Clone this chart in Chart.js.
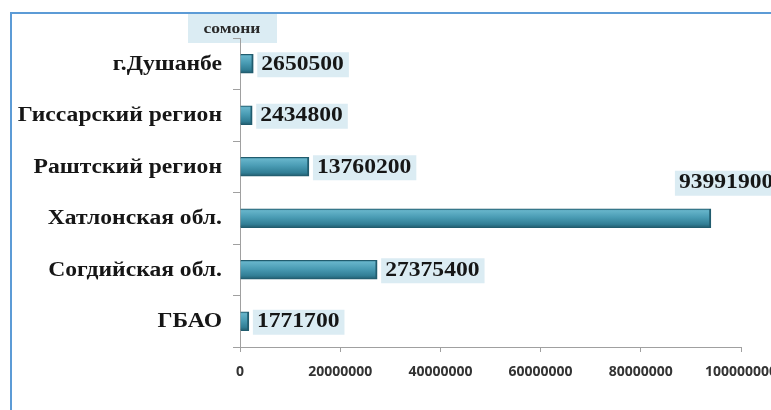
<!DOCTYPE html>
<html>
<head>
<meta charset="utf-8">
<script src="https://cdn.jsdelivr.net/npm/chart.js@4.4.1/dist/chart.umd.min.js"></script>
<style>
  html, body { margin: 0; padding: 0; background: #fff; }
  #wrap { width: 771px; height: 410px; }
</style>
</head>
<body>
<div id="wrap"><canvas id="mainBarChart" width="771" height="410"></canvas></div>
<script>
// регионы и суммы (сомони)
const categories = ['г.Душанбе', 'Гиссарский регион', 'Раштский регион', 'Хатлонская обл.', 'Согдийская обл.', 'ГБАО'];
const values = [2650500, 2434800, 13760200, 93991900, 27375400, 1771700];
const xTicks = [0, 20000000, 40000000, 60000000, 80000000, 100000000];
const unitLabel = 'сомони';

const serif = '"Liberation Serif", "Times New Roman", serif';
const labelBg = '#dbecf3';

// градиент бара по толщине, чтобы был "объём"
function barGradient(ctx) {
    const chart = ctx.chart;
    const yScale = chart.scales.y;
    if (!yScale || ctx.type !== 'data') return '#3b8ea6';
    const cy = yScale.getPixelForValue(ctx.dataIndex);
    if (!Number.isFinite(cy)) return '#3b8ea6';
    const g = chart.ctx.createLinearGradient(0, cy - 10, 0, cy + 10);
    g.addColorStop(0, '#2c6f84');
    g.addColorStop(0.12, '#66b4ca');
    g.addColorStop(0.45, '#4a9cb4');
    g.addColorStop(0.8, '#317e95');
    g.addColorStop(1, '#1f5566');
    return g;
}

// текст, растянутый по ширине
function wideText(c, text, x, y, sx, align) {
    c.save();
    c.translate(x, y);
    c.scale(sx, 1);
    c.textAlign = align;
    c.textBaseline = 'middle';
    c.fillText(text, 0, 0);
    c.restore();
}

const decorPlugin = {
    id: 'decor',
    beforeDraw(chart) {
        const c = chart.ctx;
        c.save();
        // рамка слева и сверху
        c.strokeStyle = '#5c9bd6';
        c.lineWidth = 2;
        c.beginPath();
        c.moveTo(11, 410);
        c.lineTo(11, 13);
        c.lineTo(771, 13);
        c.stroke();
        // подпись единиц
        c.fillStyle = labelBg;
        c.fillRect(188, 14, 89, 29);
        c.fillStyle = '#2a2a2a';
        c.font = 'bold 14px ' + serif;
        wideText(c, unitLabel, 232, 29, 1.25, 'center');
        c.restore();
    },
    afterDatasetsDraw(chart) {
        const c = chart.ctx;
        const yScale = chart.scales.y;
        const bars = chart.getDatasetMeta(0).data;
        c.save();
        // названия регионов
        c.fillStyle = '#161616';
        c.font = 'bold 20px ' + serif;
        categories.forEach((name, i) => {
            wideText(c, name, 222, yScale.getPixelForValue(i) + 1, 1.18, 'right');
        });
        // значения у концов баров
        c.font = 'bold 20px ' + serif;
        bars.forEach((bar, i) => {
            const text = String(values[i]);
            const w = c.measureText(text).width * 1.18 + 9;
            let left = bar.x + 4;
            let cy = bar.y + 1;
            if (left + w > chart.width) {
                // не помещается справа — над баром
                left = bar.x - 36;
                cy = bar.y - 35;
            }
            c.fillStyle = labelBg;
            c.fillRect(left, cy - 12.5, w, 25);
            c.fillStyle = '#161616';
            wideText(c, text, left + 4, cy, 1.18, 'left');
        });
        c.restore();
    }
};

const ctx = document.getElementById('mainBarChart').getContext('2d');
new Chart(ctx, {
    type: 'bar',
    data: {
        labels: categories,
        datasets: [{
            data: values,
            backgroundColor: barGradient,
            borderColor: '#215c6e',
            borderWidth: { top: 1, bottom: 1, right: 2, left: 0 },
            borderSkipped: 'start',
            barThickness: 19
        }]
    },
    plugins: [decorPlugin],
    options: {
        indexAxis: 'y',
        responsive: false,
        animation: false,
        layout: { padding: { top: 38, right: 30, bottom: 0, left: 0 } },
        plugins: {
            legend: { display: false },
            tooltip: { enabled: false }
        },
        scales: {
            x: {
                min: 0,
                max: 100000000,
                afterBuildTicks: scale => { scale.ticks = xTicks.map(v => ({ value: v })); },
                afterFit: scale => { scale.height = 63; scale.paddingRight = 0; scale.paddingLeft = 0; },
                grid: { drawOnChartArea: false, tickLength: 5, color: '#a0a0a0' },
                border: { color: '#a0a0a0', width: 1 },
                ticks: {
                    padding: 12,
                    color: '#333',
                    maxRotation: 0,
                    autoSkip: false,
                    font: { family: '"Open Sans", "Liberation Sans", Arial, sans-serif', size: 14, weight: 'bold' },
                    callback: v => String(v)
                }
            },
            y: {
                afterFit: scale => { scale.width = 240; scale.paddingTop = 0; scale.paddingBottom = 0; },
                grid: { drawOnChartArea: false, tickLength: 7, color: '#a0a0a0', offset: true },
                border: { color: '#a0a0a0', width: 1 },
                ticks: { display: false }
            }
        }
    }
});
</script>
</body>
</html>
